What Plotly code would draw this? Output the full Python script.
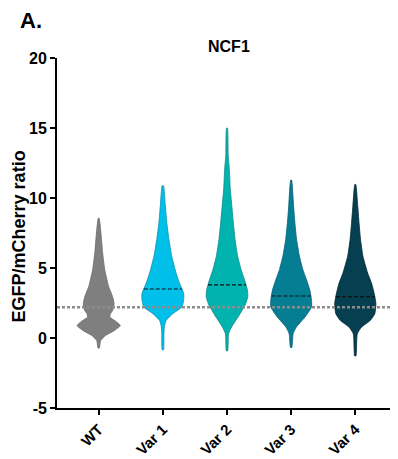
import numpy as np
import plotly.graph_objects as go

categories = ["WT", "Var 1", "Var 2", "Var 3", "Var 4"]

# EGFP/mCherry ratio levels and relative violin density (1.0 = widest)
wt_levels = [-0.72, -0.19, 0.17, 0.5, 0.89, 1.2, 1.5, 1.75, 1.98, 2.46, 2.95, 3.67, 4.88, 6.09, 7.3, 8.55]
wt_density = [0.03, 0.09, 0.31, 0.69, 1.0, 0.78, 0.51, 0.55, 0.65, 0.71, 0.64, 0.46, 0.28, 0.18, 0.115, 0.02]

var1_levels = [-0.85, 0.3, 0.8, 1.25, 1.74, 2.22, 2.7, 3.19, 3.91, 4.64, 5.85, 7.05, 8.26, 9.47, 10.87]
var1_density = [0.03, 0.05, 0.07, 0.15, 0.46, 0.88, 0.96, 0.96, 0.77, 0.61, 0.41, 0.28, 0.18, 0.115, 0.03]

var2_levels = [-0.92, 0.29, 0.78, 1.5, 2.34, 2.95, 3.43, 4.15, 4.88, 5.85, 7.05, 8.26, 9.47, 10.67, 11.88, 13.08, 15.0]
var2_density = [0.03, 0.07, 0.21, 0.51, 0.83, 0.96, 0.94, 0.81, 0.65, 0.49, 0.37, 0.29, 0.22, 0.15, 0.115, 0.055, 0.02]

var3_levels = [-0.68, 0.29, 0.78, 1.5, 2.22, 2.7, 3.43, 4.15, 4.88, 5.85, 7.05, 8.26, 9.47, 11.28]
var3_density = [0.03, 0.09, 0.24, 0.64, 0.94, 0.94, 0.86, 0.71, 0.54, 0.38, 0.25, 0.17, 0.11, 0.02]

var4_levels = [-1.28, 0.29, 0.78, 1.25, 1.74, 2.46, 3.19, 3.91, 4.64, 5.85, 7.05, 8.26, 9.47, 10.97]
var4_density = [0.03, 0.09, 0.29, 0.69, 0.90, 0.95, 0.87, 0.75, 0.57, 0.35, 0.24, 0.17, 0.11, 0.02]

medians = [2.2, 3.5, 3.79, 3.0, 2.95]
wt_reference = 2.2

y_ticks = [-5, 0, 5, 10, 15, 20]

fills = ["#7f7f7f", "#00bfe8", "#00b3ae", "#057d93", "#053f50"]
outlines = ["#6a6a6a", "#0a8fb0", "#0a8a88", "#06607a", "#022a36"]

levels_all = [wt_levels, var1_levels, var2_levels, var3_levels, var4_levels]
density_all = [wt_density, var1_density, var2_density, var3_density, var4_density]

MAX_HALF = 0.338  # half-width (category units) of the widest violin

fig = go.Figure()

for i, (lv, dn) in enumerate(zip(levels_all, density_all)):
    lv = np.array(lv)
    hw = np.array(dn) * MAX_HALF
    xs = np.concatenate([i + hw, (i - hw)[::-1], [i + hw[0]]])
    ys = np.concatenate([lv, lv[::-1], [lv[0]]])
    fig.add_trace(go.Scatter(
        x=xs, y=ys, mode="lines", fill="toself",
        fillcolor=fills[i],
        line=dict(color=outlines[i], width=0.8, shape="spline", smoothing=0.5),
        hoverinfo="skip", showlegend=False,
    ))
    if i > 0:
        m = medians[i]
        h = float(np.interp(m, lv, hw))
        fig.add_trace(go.Scatter(
            x=[i - h, i + h], y=[m, m], mode="lines",
            line=dict(color="#111111", width=1.2, dash="4px,2px"),
            hoverinfo="skip", showlegend=False,
        ))

fig.add_trace(go.Scatter(
    x=[-0.65, 4.65], y=[wt_reference, wt_reference], mode="lines",
    line=dict(color="#8c8c8c", width=2.4, dash="3px,2px"),
    hoverinfo="skip", showlegend=False,
))

font_family = "Liberation Sans, Arial, sans-serif"

# the page body adds an 8px offset; the figure is sized so the plot area lands where the reference has it
fig.update_layout(
    width=390, height=451,
    margin=dict(l=49, r=1, t=50, b=48),
    paper_bgcolor="white", plot_bgcolor="white",
    showlegend=False,
    font=dict(family=font_family, color="black"),
    xaxis=dict(
        range=[-0.65, 4.65],
        tickmode="array", tickvals=list(range(len(categories))), ticktext=categories,
        tickangle=-45,
        showline=True, linecolor="black", linewidth=1.8,
        ticks="outside", ticklen=5, tickwidth=1.8, tickcolor="black",
        showgrid=False, zeroline=False,
        tickfont=dict(size=15, weight=700, family=font_family, color="black"),
    ),
    yaxis=dict(
        range=[-5, 20],
        tickmode="array", tickvals=y_ticks, ticktext=[str(t) for t in y_ticks],
        showline=True, linecolor="black", linewidth=1.8,
        ticks="outside", ticklen=5, tickwidth=1.8, tickcolor="black",
        showgrid=False, zeroline=False,
        tickfont=dict(size=16, weight=700, family=font_family, color="black"),
    ),
    annotations=[
        dict(text="EGFP/mCherry ratio", xref="paper", yref="paper",
             x=-0.112, y=0.49, xanchor="center", yanchor="middle",
             textangle=-90, showarrow=False,
             font=dict(size=18, weight=700, family=font_family, color="black")),
        dict(text="NCF1", xref="paper", yref="paper",
             x=0.506, y=1.032, xanchor="center", yanchor="middle", showarrow=False,
             font=dict(size=16, weight=700, family=font_family, color="black")),
        dict(text="A.", xref="paper", yref="paper",
             x=-0.0765, y=1.107, xanchor="center", yanchor="middle", showarrow=False,
             font=dict(size=22, weight=700, family=font_family, color="black")),
    ],
)

fig.write_html("out.html")
